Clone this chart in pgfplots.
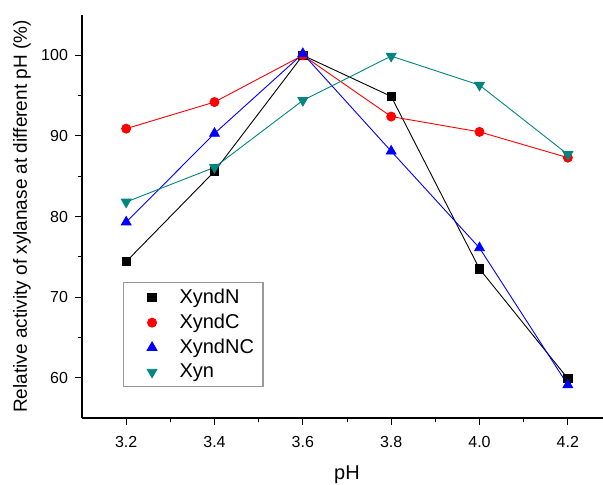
\documentclass[border=0pt]{standalone}
\usepackage{fontspec}
\setmainfont{Liberation Sans}
\usepackage{pgfplots}
\pgfplotsset{compat=1.18}
\definecolor{xynteal}{RGB}{0,133,128}
\begin{document}
\begin{tikzpicture}
\begin{axis}[
    width=265pt, height=201.5pt,
    scale only axis,
    xmin=3.1, xmax=4.3,
    ymin=55, ymax=105,
    axis x line*=bottom,
    axis y line*=left,
    tick align=outside,
    xtick={3.2,3.4,...,4.21},
    minor xtick={3.3,3.5,...,4.11},
    ytick={60,70,...,100},
    minor ytick={65,75,...,95},
    major tick length=3.5pt,
    minor tick length=2pt,
    tick style={black, line width=0.5pt},
    axis line style={line width=0.6pt},
    xticklabel style={yshift=-2pt, /pgf/number format/.cd, fixed, fixed zerofill, precision=1},
    /pgf/number format/assume math mode=true,
    tick label style={font=\fontsize{8}{9}\selectfont},
    xlabel={pH},
    ylabel={Relative activity of xylanase at different pH (\%)},
    every axis x label/.style={at={(rel axis cs:0.5,0)}, yshift=-28.5pt, anchor=center,
        font=\fontsize{10}{12}\selectfont},
    every axis y label/.style={at={(rel axis cs:0,0.5)}, xshift=-30pt, rotate=90, anchor=center,
        font=\fontsize{9.5}{12}\selectfont},
    legend cell align=left,
    legend style={at={(rel axis cs:0.0774,0.3375)}, anchor=north west,
        draw=gray!80, line width=0.6pt, font=\fontsize{10}{12}\selectfont,
        nodes={inner sep=1pt}, row sep=1.7pt, inner xsep=3.5pt, inner ysep=2.2pt,
        /tikz/every even column/.style={column sep=0pt}},
    legend image code/.code={\path (0pt,0pt) (23pt,0pt); \draw[#1] plot coordinates {(10.5pt,0pt)};},
    every axis plot/.append style={line width=0.45pt},
]
\addplot[black, mark=square*, mark size=2.1pt] coordinates {
    (3.2,74.4) (3.4,85.6) (3.6,100.0) (3.8,94.9) (4.0,73.5) (4.2,59.9)};
\addplot[red, mark=*, mark size=2.25pt] coordinates {
    (3.2,90.9) (3.4,94.2) (3.6,100.0) (3.8,92.4) (4.0,90.5) (4.2,87.3)};
\addplot[blue, mark=triangle*, mark size=2.8pt] coordinates {
    (3.2,79.3) (3.4,90.3) (3.6,100.2) (3.8,88.1) (4.0,76.1) (4.2,59.1)};
\addplot[xynteal, mark=triangle*, mark size=2.8pt, mark options={rotate=180}] coordinates {
    (3.2,81.8) (3.4,86.1) (3.6,94.4) (3.8,99.9) (4.0,96.3) (4.2,87.7)};
\legend{XyndN, XyndC, XyndNC, Xyn}
\end{axis}
\pgfresetboundingbox
\path ([xshift=-41pt,yshift=-33pt]current axis.south west) rectangle
      ([xshift=260.5pt,yshift=209pt]current axis.south west);
\end{tikzpicture}
\end{document}
